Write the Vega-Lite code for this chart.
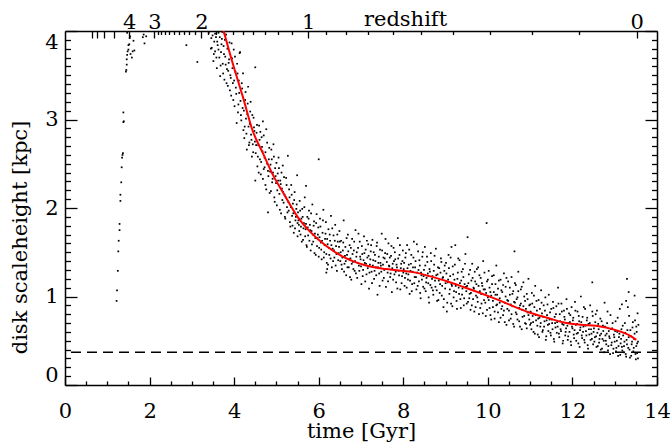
{
"$schema":"https://vega.github.io/schema/vega-lite/v6.json",
"width":592,"height":354,
"autosize":"none",
"padding":{"left":65,"top":31,"right":14,"bottom":62},
"background":"white",
"config":{"view":{"stroke":null},"axis":{"grid":false,"domainColor":"black","tickColor":"black","labelColor":"black","titleColor":"black","labelFont":"DejaVu Serif","titleFont":"DejaVu Serif","labelFontSize":21,"titleFontSize":21,"titleFontWeight":"normal","domainWidth":1.5,"tickWidth":1.3,"labelOverlap":false,"labelBound":false}},
"datasets":{
"pts":[
{"t":1.22,"h":0.95},{"t":1.23,"h":1.07},{"t":1.25,"h":1.29},{"t":1.26,"h":1.51},{"t":1.27,"h":1.63},{"t":1.29,"h":1.75},{"t":1.29,"h":1.82},{"t":1.31,"h":2.08},{"t":1.31,"h":2.15},{"t":1.33,"h":2.29},{"t":1.34,"h":2.46},{"t":1.35,"h":2.57},{"t":1.36,"h":2.6},{"t":1.37,"h":2.62},{"t":1.38,"h":2.97},{"t":1.39,"h":2.98},{"t":1.38,"h":3.08},{"t":1.44,"h":3.54},{"t":1.45,"h":3.56},{"t":1.46,"h":3.62},{"t":1.46,"h":3.68},{"t":1.47,"h":3.73},{"t":1.48,"h":3.77},{"t":1.5,"h":3.79},{"t":1.5,"h":3.84},{"t":1.52,"h":3.85},{"t":1.53,"h":3.92},{"t":1.54,"h":3.94},{"t":1.55,"h":3.74},{"t":1.58,"h":3.7},{"t":1.6,"h":3.77},{"t":1.62,"h":3.89},{"t":1.64,"h":3.78},{"t":1.84,"h":3.93},{"t":1.86,"h":3.96},{"t":1.88,"h":3.86},{"t":1.92,"h":3.94},{"t":1.47,"h":3.98},{"t":1.43,"h":4.0},{"t":2.87,"h":3.84},{"t":3.13,"h":3.65},{"t":3.4,"h":3.98},{"t":3.45,"h":3.8},
{"t":3.46,"h":3.92},{"t":3.52,"h":3.74},{"t":3.55,"h":3.97},{"t":3.58,"h":3.7},{"t":3.6,"h":3.88},{"t":3.63,"h":3.79},{"t":3.66,"h":3.93},{"t":3.68,"h":3.61},{"t":3.7,"h":3.85},{"t":3.72,"h":3.99},{"t":3.74,"h":3.52},{"t":3.76,"h":3.74},{"t":3.78,"h":3.9},{"t":3.8,"h":3.62},{"t":3.82,"h":3.41},{"t":3.84,"h":3.8},{"t":3.86,"h":3.55},{"t":3.88,"h":3.68},{"t":3.9,"h":3.33},{"t":3.92,"h":3.47},{"t":3.94,"h":3.86},{"t":3.96,"h":3.58},{"t":3.98,"h":3.22},{"t":4.0,"h":3.44},{"t":4.02,"h":3.71},{"t":4.04,"h":3.36},{"t":4.06,"h":2.96},{"t":4.08,"h":3.52},{"t":4.1,"h":3.17},{"t":4.12,"h":3.3},{"t":4.14,"h":3.76},{"t":4.16,"h":3.05},{"t":4.18,"h":3.41},{"t":4.2,"h":3.13},{"t":4.22,"h":2.88},{"t":4.24,"h":2.79},{"t":4.26,"h":3.22},{"t":4.28,"h":3.01},{"t":4.3,"h":2.66},{"t":4.32,"h":3.18},{"t":4.34,"h":2.92},{"t":4.36,"h":2.74},{"t":4.38,"h":3.09},{"t":4.4,"h":2.83},{"t":4.42,"h":2.58},{"t":4.44,"h":2.72},{"t":4.46,"h":3.02},{"t":4.48,"h":2.87},{"t":4.5,"h":2.31},{"t":4.5,"h":3.59},
{"t":4.51,"h":2.62},{"t":4.53,"h":2.85},{"t":4.55,"h":2.47},{"t":4.57,"h":2.71},{"t":4.59,"h":2.93},{"t":4.61,"h":2.55},{"t":4.63,"h":2.38},{"t":4.65,"h":2.8},{"t":4.67,"h":2.64},{"t":4.68,"h":2.98},{"t":4.7,"h":2.44},{"t":4.72,"h":2.57},{"t":4.74,"h":2.26},{"t":4.76,"h":2.89},{"t":4.78,"h":2.5},{"t":4.8,"h":1.95},{"t":4.81,"h":2.36},{"t":4.83,"h":2.68},{"t":4.85,"h":2.41},{"t":4.87,"h":2.19},{"t":4.89,"h":2.55},{"t":4.91,"h":2.33},{"t":4.93,"h":2.72},{"t":4.95,"h":2.12},{"t":4.97,"h":2.45},{"t":4.99,"h":2.28},{"t":5.01,"h":2.03},{"t":5.03,"h":2.39},{"t":5.05,"h":2.57},{"t":5.07,"h":2.16},{"t":5.09,"h":2.31},{"t":5.11,"h":1.94},{"t":5.13,"h":2.22},{"t":5.15,"h":2.48},{"t":5.17,"h":2.06},{"t":5.19,"h":2.15},{"t":5.21,"h":1.88},{"t":5.23,"h":2.34},{"t":5.25,"h":2.01},{"t":5.27,"h":2.59},{"t":5.29,"h":1.97},{"t":5.31,"h":2.12},{"t":5.33,"h":1.79},{"t":5.35,"h":2.26},{"t":5.37,"h":1.91},{"t":5.39,"h":2.05},{"t":5.41,"h":1.72},{"t":5.43,"h":2.18},{"t":5.45,"h":1.86},{"t":5.47,"h":1.99},{"t":5.49,"h":2.37},{"t":5.5,"h":1.68},
{"t":5.51,"h":1.95},{"t":5.53,"h":1.81},{"t":5.55,"h":2.08},{"t":5.57,"h":1.7},{"t":5.59,"h":1.88},{"t":5.61,"h":1.99},{"t":5.63,"h":1.64},{"t":5.65,"h":1.83},{"t":5.67,"h":2.12},{"t":5.69,"h":1.76},{"t":5.7,"h":2.25},{"t":5.71,"h":1.58},{"t":5.73,"h":1.9},{"t":5.75,"h":1.69},{"t":5.77,"h":1.97},{"t":5.79,"h":1.81},{"t":5.81,"h":1.52},{"t":5.83,"h":1.74},{"t":5.85,"h":2.04},{"t":5.87,"h":1.62},{"t":5.89,"h":1.85},{"t":5.91,"h":1.71},{"t":5.93,"h":1.47},{"t":5.95,"h":1.93},{"t":5.97,"h":1.66},{"t":5.99,"h":1.78},{"t":6.0,"h":2.55},{"t":6.01,"h":1.55},{"t":6.03,"h":1.88},{"t":6.05,"h":1.61},{"t":6.07,"h":1.42},{"t":6.09,"h":1.72},{"t":6.11,"h":1.98},{"t":6.13,"h":1.5},{"t":6.15,"h":1.65},{"t":6.17,"h":1.84},{"t":6.19,"h":1.38},{"t":6.18,"h":1.27},{"t":6.2,"h":1.31},{"t":6.21,"h":1.59},{"t":6.23,"h":1.76},{"t":6.25,"h":1.47},{"t":6.27,"h":1.63},{"t":6.29,"h":1.91},{"t":6.31,"h":1.33},{"t":6.33,"h":1.54},{"t":6.35,"h":1.69},{"t":6.37,"h":1.44},{"t":6.39,"h":1.81},{"t":6.41,"h":1.57},{"t":6.43,"h":1.29},{"t":6.45,"h":1.62},{"t":6.47,"h":1.49},{"t":6.49,"h":1.74},
{"t":6.51,"h":1.4},{"t":6.53,"h":1.63},{"t":6.55,"h":1.31},{"t":6.57,"h":1.52},{"t":6.59,"h":1.86},{"t":6.61,"h":1.37},{"t":6.63,"h":1.56},{"t":6.65,"h":1.24},{"t":6.67,"h":1.47},{"t":6.69,"h":1.7},{"t":6.71,"h":1.33},{"t":6.73,"h":1.58},{"t":6.75,"h":1.43},{"t":6.77,"h":1.19},{"t":6.79,"h":1.65},{"t":6.81,"h":1.39},{"t":6.83,"h":1.52},{"t":6.85,"h":1.29},{"t":6.87,"h":1.75},{"t":6.89,"h":1.45},{"t":6.91,"h":1.21},{"t":6.93,"h":1.55},{"t":6.95,"h":1.35},{"t":6.97,"h":1.62},{"t":6.99,"h":1.42},{"t":7.01,"h":1.14},{"t":7.03,"h":1.48},{"t":7.05,"h":1.3},{"t":7.07,"h":1.68},{"t":7.09,"h":1.38},{"t":7.11,"h":1.53},{"t":7.13,"h":1.25},{"t":7.15,"h":1.44},{"t":7.17,"h":1.59},{"t":7.19,"h":1.09},{"t":7.21,"h":1.36},{"t":7.23,"h":1.51},{"t":7.25,"h":1.28},{"t":7.27,"h":1.64},{"t":7.29,"h":1.41},{"t":7.31,"h":1.2},{"t":7.33,"h":1.47},{"t":7.35,"h":1.33},{"t":7.37,"h":1.57},{"t":7.39,"h":1.02},{"t":7.41,"h":1.38},{"t":7.43,"h":1.26},{"t":7.45,"h":1.53},{"t":7.47,"h":1.35},{"t":7.49,"h":1.71},{"t":7.51,"h":1.18},{"t":7.53,"h":1.44},{"t":7.55,"h":1.3},{"t":7.57,"h":1.49},{"t":7.59,"h":1.11},{"t":7.61,"h":1.39},{"t":7.63,"h":1.27},{"t":7.65,"h":1.6},{"t":7.67,"h":1.34},{"t":7.69,"h":1.22},{"t":7.71,"h":1.46},{"t":7.73,"h":1.05},{"t":7.75,"h":1.37},{"t":7.77,"h":1.55},{"t":7.79,"h":1.25},{"t":7.81,"h":1.42},{"t":7.83,"h":1.16},{"t":7.85,"h":1.33},{"t":7.87,"h":1.66},{"t":7.89,"h":1.29},{"t":7.91,"h":1.47},{"t":7.93,"h":1.08},{"t":7.95,"h":1.37},{"t":7.97,"h":1.23},{"t":7.99,"h":1.52},
{"t":8.01,"h":1.31},{"t":8.03,"h":1.12},{"t":8.05,"h":1.44},{"t":8.07,"h":1.26},{"t":8.09,"h":1.58},{"t":8.11,"h":1.19},{"t":8.13,"h":1.36},{"t":8.15,"h":1.03},{"t":8.17,"h":1.29},{"t":8.19,"h":1.47},{"t":8.21,"h":1.14},{"t":8.23,"h":1.33},{"t":8.25,"h":1.62},{"t":8.27,"h":1.22},{"t":8.29,"h":1.4},{"t":8.31,"h":1.08},{"t":8.33,"h":1.27},{"t":8.35,"h":1.51},{"t":8.37,"h":1.17},{"t":8.39,"h":1.35},{"t":8.41,"h":0.98},{"t":8.43,"h":1.24},{"t":8.45,"h":1.45},{"t":8.47,"h":1.11},{"t":8.49,"h":1.3},{"t":8.51,"h":1.56},{"t":8.53,"h":1.06},{"t":8.55,"h":1.21},{"t":8.57,"h":1.39},{"t":8.59,"h":1.15},{"t":8.61,"h":0.93},{"t":8.63,"h":1.28},{"t":8.65,"h":1.49},{"t":8.67,"h":1.1},{"t":8.69,"h":1.23},{"t":8.71,"h":1.02},{"t":8.73,"h":1.36},{"t":8.75,"h":1.18},{"t":8.77,"h":1.54},{"t":8.79,"h":1.07},{"t":8.81,"h":1.25},{"t":8.83,"h":0.96},{"t":8.85,"h":1.32},{"t":8.87,"h":1.14},{"t":8.89,"h":1.43},{"t":8.91,"h":1.01},{"t":8.93,"h":1.21},{"t":8.95,"h":0.88},{"t":8.97,"h":1.29},{"t":8.99,"h":1.09},{"t":9.01,"h":1.38},{"t":9.03,"h":0.83},{"t":9.05,"h":1.16},{"t":9.07,"h":1.47},{"t":9.09,"h":1.03},{"t":9.11,"h":1.23},{"t":9.13,"h":0.92},{"t":9.14,"h":1.56},{"t":9.15,"h":1.12},{"t":9.17,"h":1.34},{"t":9.19,"h":0.99},{"t":9.21,"h":1.19},{"t":9.23,"h":1.58},{"t":9.25,"h":1.05},{"t":9.27,"h":0.86},{"t":9.29,"h":1.27},{"t":9.31,"h":1.1},{"t":9.33,"h":1.41},{"t":9.35,"h":0.97},{"t":9.37,"h":1.18},{"t":9.39,"h":1.02},{"t":9.41,"h":1.31},{"t":9.43,"h":0.9},{"t":9.45,"h":1.14},{"t":9.47,"h":1.48},{"t":9.49,"h":1.06},
{"t":9.51,"h":1.12},{"t":9.52,"h":1.67},{"t":9.53,"h":0.94},{"t":9.55,"h":1.25},{"t":9.57,"h":1.03},{"t":9.59,"h":0.85},{"t":9.61,"h":1.18},{"t":9.63,"h":1.37},{"t":9.65,"h":0.97},{"t":9.67,"h":1.09},{"t":9.69,"h":1.28},{"t":9.71,"h":0.88},{"t":9.73,"h":1.14},{"t":9.75,"h":0.99},{"t":9.77,"h":1.33},{"t":9.79,"h":0.8},{"t":9.81,"h":1.06},{"t":9.83,"h":1.21},{"t":9.85,"h":0.92},{"t":9.87,"h":1.12},{"t":9.89,"h":1.4},{"t":9.91,"h":0.96},{"t":9.93,"h":1.08},{"t":9.95,"h":0.78},{"t":9.97,"h":1.83},{"t":9.98,"h":1.17},{"t":10.0,"h":0.99},{"t":10.02,"h":1.29},{"t":10.04,"h":0.87},{"t":10.06,"h":1.05},{"t":10.08,"h":0.74},{"t":10.1,"h":1.14},{"t":10.12,"h":0.95},{"t":10.14,"h":1.24},{"t":10.16,"h":0.83},{"t":10.18,"h":1.02},{"t":10.2,"h":1.35},{"t":10.22,"h":0.91},{"t":10.24,"h":1.09},{"t":10.26,"h":0.71},{"t":10.28,"h":0.98},{"t":10.3,"h":1.19},{"t":10.32,"h":0.86},{"t":10.34,"h":1.05},{"t":10.36,"h":0.79},{"t":10.38,"h":1.26},{"t":10.4,"h":0.93},{"t":10.42,"h":1.11},{"t":10.44,"h":0.68},{"t":10.46,"h":0.96},{"t":10.48,"h":1.17},{"t":10.5,"h":0.84},{"t":10.52,"h":1.02},{"t":10.54,"h":0.75},{"t":10.56,"h":1.22},{"t":10.58,"h":0.89},{"t":10.6,"h":1.06},{"t":10.62,"h":0.66},{"t":10.63,"h":1.51},{"t":10.64,"h":0.93},{"t":10.66,"h":1.13},{"t":10.68,"h":0.8},{"t":10.7,"h":0.99},{"t":10.72,"h":1.28},{"t":10.74,"h":0.72},{"t":10.76,"h":0.9},{"t":10.78,"h":1.08},{"t":10.8,"h":0.63},{"t":10.82,"h":0.85},{"t":10.84,"h":1.16},{"t":10.86,"h":0.78},{"t":10.88,"h":0.95},{"t":10.9,"h":0.69},{"t":10.92,"h":1.03},{"t":10.94,"h":0.82},{"t":10.96,"h":1.2},{"t":10.98,"h":0.74},
{"t":11.0,"h":0.91},{"t":11.02,"h":0.7},{"t":11.04,"h":1.04},{"t":11.06,"h":0.78},{"t":11.08,"h":0.6},{"t":11.1,"h":0.88},{"t":11.12,"h":1.12},{"t":11.14,"h":0.73},{"t":11.16,"h":0.84},{"t":11.18,"h":0.57},{"t":11.2,"h":0.96},{"t":11.22,"h":0.76},{"t":11.24,"h":0.66},{"t":11.26,"h":1.07},{"t":11.28,"h":0.81},{"t":11.3,"h":0.62},{"t":11.32,"h":0.9},{"t":11.34,"h":0.72},{"t":11.36,"h":0.99},{"t":11.38,"h":0.55},{"t":11.4,"h":0.79},{"t":11.42,"h":0.68},{"t":11.44,"h":1.02},{"t":11.46,"h":0.74},{"t":11.48,"h":0.59},{"t":11.5,"h":0.86},{"t":11.52,"h":0.7},{"t":11.54,"h":0.94},{"t":11.56,"h":0.52},{"t":11.58,"h":0.77},{"t":11.6,"h":0.65},{"t":11.62,"h":0.89},{"t":11.64,"h":0.71},{"t":11.66,"h":1.1},{"t":11.68,"h":0.58},{"t":11.7,"h":0.8},{"t":11.72,"h":0.63},{"t":11.74,"h":0.92},{"t":11.76,"h":0.69},{"t":11.78,"h":0.5},{"t":11.8,"h":0.84},{"t":11.82,"h":0.74},{"t":11.84,"h":0.6},{"t":11.86,"h":0.97},{"t":11.88,"h":0.67},{"t":11.9,"h":0.55},{"t":11.92,"h":0.81},{"t":11.94,"h":0.71},{"t":11.96,"h":0.49},{"t":11.98,"h":0.88},{"t":12.0,"h":0.64},{"t":12.02,"h":0.76},{"t":12.04,"h":0.53},{"t":12.06,"h":0.94},{"t":12.08,"h":0.68},{"t":12.1,"h":0.58},{"t":12.12,"h":0.83},{"t":12.14,"h":0.47},{"t":12.16,"h":0.72},{"t":12.18,"h":0.62},{"t":12.2,"h":1.0},{"t":12.22,"h":0.56},{"t":12.24,"h":0.77},{"t":12.26,"h":0.66},{"t":12.28,"h":0.51},{"t":12.3,"h":0.86},{"t":12.32,"h":0.61},{"t":12.34,"h":0.73},{"t":12.36,"h":0.45},{"t":12.38,"h":0.69},{"t":12.4,"h":0.57},{"t":12.42,"h":0.9},{"t":12.44,"h":0.63},{"t":12.46,"h":0.52},{"t":12.47,"h":1.16},{"t":12.48,"h":0.78},
{"t":12.5,"h":0.6},{"t":12.52,"h":0.49},{"t":12.54,"h":0.71},{"t":12.56,"h":0.55},{"t":12.58,"h":0.84},{"t":12.6,"h":0.44},{"t":12.62,"h":0.63},{"t":12.64,"h":0.52},{"t":12.66,"h":0.75},{"t":12.68,"h":0.58},{"t":12.7,"h":0.41},{"t":12.72,"h":0.67},{"t":12.74,"h":0.5},{"t":12.76,"h":0.93},{"t":12.78,"h":0.56},{"t":12.8,"h":0.46},{"t":12.82,"h":0.7},{"t":12.84,"h":0.39},{"t":12.86,"h":0.61},{"t":12.88,"h":0.53},{"t":12.9,"h":0.79},{"t":12.92,"h":0.45},{"t":12.94,"h":0.64},{"t":12.96,"h":0.36},{"t":12.98,"h":0.57},{"t":13.0,"h":0.49},{"t":13.02,"h":0.72},{"t":13.04,"h":0.42},{"t":13.06,"h":0.6},{"t":13.08,"h":0.33},{"t":13.1,"h":0.54},{"t":13.12,"h":0.86},{"t":13.14,"h":0.47},{"t":13.16,"h":0.63},{"t":13.17,"h":0.91},{"t":13.18,"h":0.39},{"t":13.2,"h":0.56},{"t":13.22,"h":0.44},{"t":13.24,"h":0.7},{"t":13.26,"h":0.35},{"t":13.27,"h":0.95},{"t":13.28,"h":0.51},{"t":13.29,"h":1.2},{"t":13.3,"h":0.62},{"t":13.32,"h":0.42},{"t":13.33,"h":1.05},{"t":13.34,"h":0.78},{"t":13.36,"h":0.31},{"t":13.38,"h":0.55},{"t":13.4,"h":0.46},{"t":13.42,"h":0.65},{"t":13.44,"h":0.38},{"t":13.46,"h":0.52},{"t":13.47,"h":1.01},{"t":13.48,"h":0.73},{"t":13.5,"h":0.29},{"t":13.51,"h":0.44},{"t":13.52,"h":0.6},{"t":13.53,"h":0.36},{"t":13.54,"h":0.81},{"t":13.55,"h":0.49},{"t":13.56,"h":0.68},
{"t":3.47,"h":3.81},{"t":3.49,"h":3.95},{"t":3.51,"h":3.66},{"t":3.53,"h":3.88},{"t":3.55,"h":3.77},{"t":3.57,"h":3.93},{"t":3.59,"h":3.58},{"t":3.61,"h":3.84},{"t":3.63,"h":3.98},{"t":3.65,"h":3.7},{"t":3.67,"h":3.49},{"t":3.69,"h":3.76},{"t":3.71,"h":3.91},{"t":3.73,"h":3.63},{"t":3.75,"h":3.83},{"t":3.77,"h":3.45},{"t":3.79,"h":3.71},{"t":3.81,"h":3.96},{"t":3.83,"h":3.57},{"t":3.85,"h":3.38},{"t":3.87,"h":3.64},{"t":3.89,"h":3.87},{"t":3.91,"h":3.5},{"t":3.93,"h":3.27},{"t":3.95,"h":3.69},{"t":3.97,"h":3.41},{"t":3.99,"h":3.79},{"t":4.01,"h":3.15},{"t":4.03,"h":3.54},{"t":4.05,"h":3.29},{"t":4.07,"h":3.63},{"t":4.09,"h":3.08},{"t":4.11,"h":3.44},{"t":4.13,"h":3.75},{"t":4.15,"h":3.21},{"t":4.17,"h":2.99},{"t":4.19,"h":3.35},{"t":4.21,"h":3.52},{"t":4.23,"h":3.1},{"t":4.25,"h":2.92},{"t":4.27,"h":3.31},{"t":4.29,"h":2.84},{"t":4.31,"h":3.06},{"t":4.33,"h":3.37},{"t":4.35,"h":2.71},{"t":4.37,"h":2.95},{"t":4.39,"h":3.2},{"t":4.41,"h":2.77},{"t":4.43,"h":3.05},{"t":4.45,"h":2.63},{"t":4.47,"h":2.91},{"t":4.49,"h":2.75},
{"t":4.52,"h":2.71},{"t":4.54,"h":2.94},{"t":4.56,"h":2.58},{"t":4.58,"h":2.4},{"t":4.6,"h":2.77},{"t":4.62,"h":2.86},{"t":4.64,"h":2.52},{"t":4.66,"h":2.69},{"t":4.68,"h":2.33},{"t":4.7,"h":2.82},{"t":4.72,"h":2.46},{"t":4.74,"h":2.63},{"t":4.76,"h":2.21},{"t":4.78,"h":2.74},{"t":4.8,"h":2.42},{"t":4.82,"h":2.55},{"t":4.84,"h":2.17},{"t":4.86,"h":2.49},{"t":4.88,"h":2.66},{"t":4.9,"h":2.29},{"t":4.92,"h":2.4},{"t":4.94,"h":2.58},{"t":4.96,"h":2.07},{"t":4.98,"h":2.36},{"t":5.0,"h":2.51},{"t":5.02,"h":2.2},{"t":5.04,"h":2.31},{"t":5.06,"h":2.45},{"t":5.08,"h":1.98},{"t":5.1,"h":2.27},{"t":5.12,"h":2.4},{"t":5.14,"h":2.09},{"t":5.16,"h":2.18},{"t":5.18,"h":2.35},{"t":5.2,"h":1.9},{"t":5.22,"h":2.12},{"t":5.24,"h":2.26},{"t":5.26,"h":1.95},{"t":5.28,"h":2.07},{"t":5.3,"h":2.21},{"t":5.32,"h":1.84},{"t":5.34,"h":2.01},{"t":5.36,"h":2.15},{"t":5.38,"h":1.8},{"t":5.4,"h":1.94},{"t":5.42,"h":2.09},{"t":5.44,"h":1.77},{"t":5.46,"h":1.9},{"t":5.48,"h":2.04},{"t":5.5,"h":1.83},
{"t":5.52,"h":1.86},{"t":5.54,"h":1.74},{"t":5.56,"h":1.97},{"t":5.58,"h":1.79},{"t":5.6,"h":1.62},{"t":5.62,"h":1.9},{"t":5.64,"h":1.77},{"t":5.66,"h":2.01},{"t":5.68,"h":1.68},{"t":5.7,"h":1.82},{"t":5.72,"h":1.56},{"t":5.74,"h":1.78},{"t":5.76,"h":1.88},{"t":5.78,"h":1.63},{"t":5.8,"h":1.75},{"t":5.82,"h":1.94},{"t":5.84,"h":1.59},{"t":5.86,"h":1.7},{"t":5.88,"h":1.8},{"t":5.9,"h":1.49},{"t":5.92,"h":1.66},{"t":5.94,"h":1.83},{"t":5.96,"h":1.57},{"t":5.98,"h":1.7},{"t":6.0,"h":1.45},{"t":6.02,"h":1.67},{"t":6.04,"h":1.79},{"t":6.06,"h":1.53},{"t":6.08,"h":1.63},{"t":6.1,"h":1.86},{"t":6.12,"h":1.44},{"t":6.14,"h":1.58},{"t":6.16,"h":1.71},{"t":6.18,"h":1.48},{"t":6.2,"h":1.65},{"t":6.22,"h":1.36},{"t":6.24,"h":1.55},{"t":6.26,"h":1.7},{"t":6.28,"h":1.43},{"t":6.3,"h":1.58},{"t":6.32,"h":1.77},{"t":6.34,"h":1.4},{"t":6.36,"h":1.52},{"t":6.38,"h":1.63},{"t":6.4,"h":1.35},{"t":6.42,"h":1.48},{"t":6.44,"h":1.7},{"t":6.46,"h":1.41},{"t":6.48,"h":1.56},{"t":6.5,"h":1.62},
{"t":6.52,"h":1.5},{"t":6.54,"h":1.36},{"t":6.56,"h":1.44},{"t":6.58,"h":1.61},{"t":6.6,"h":1.28},{"t":6.62,"h":1.46},{"t":6.64,"h":1.4},{"t":6.66,"h":1.66},{"t":6.68,"h":1.33},{"t":6.7,"h":1.51},{"t":6.72,"h":1.42},{"t":6.74,"h":1.22},{"t":6.76,"h":1.55},{"t":6.78,"h":1.37},{"t":6.8,"h":1.48},{"t":6.82,"h":1.31},{"t":6.84,"h":1.62},{"t":6.86,"h":1.4},{"t":6.88,"h":1.26},{"t":6.9,"h":1.5},{"t":6.92,"h":1.38},{"t":6.94,"h":1.71},{"t":6.96,"h":1.29},{"t":6.98,"h":1.45},{"t":7.0,"h":1.34},{"t":7.02,"h":1.57},{"t":7.04,"h":1.23},{"t":7.06,"h":1.41},{"t":7.08,"h":1.49},{"t":7.1,"h":1.17},{"t":7.12,"h":1.37},{"t":7.14,"h":1.63},{"t":7.16,"h":1.32},{"t":7.18,"h":1.46},{"t":7.2,"h":1.27},{"t":7.22,"h":1.42},{"t":7.24,"h":1.58},{"t":7.26,"h":1.15},{"t":7.28,"h":1.35},{"t":7.3,"h":1.5},{"t":7.32,"h":1.29},{"t":7.34,"h":1.4},{"t":7.36,"h":1.24},{"t":7.38,"h":1.61},{"t":7.4,"h":1.33},{"t":7.42,"h":1.45},{"t":7.44,"h":1.12},{"t":7.46,"h":1.38},{"t":7.48,"h":1.28},{"t":7.5,"h":1.52},{"t":7.52,"h":1.36},{"t":7.54,"h":1.21},{"t":7.56,"h":1.43},{"t":7.58,"h":1.65},{"t":7.6,"h":1.31},{"t":7.62,"h":1.48},{"t":7.64,"h":1.17},{"t":7.66,"h":1.35},{"t":7.68,"h":1.44},{"t":7.7,"h":1.26},{"t":7.72,"h":1.57},{"t":7.74,"h":1.32},{"t":7.76,"h":1.19},{"t":7.78,"h":1.4},{"t":7.8,"h":1.5},{"t":7.82,"h":1.28},{"t":7.84,"h":1.36},{"t":7.86,"h":1.09},{"t":7.88,"h":1.43},{"t":7.9,"h":1.24},{"t":7.92,"h":1.58},{"t":7.94,"h":1.32},{"t":7.96,"h":1.15},{"t":7.98,"h":1.4},{"t":8.0,"h":1.27},
{"t":8.02,"h":1.38},{"t":8.04,"h":1.21},{"t":8.06,"h":1.49},{"t":8.08,"h":1.1},{"t":8.1,"h":1.32},{"t":8.12,"h":1.25},{"t":8.14,"h":1.53},{"t":8.16,"h":1.18},{"t":8.18,"h":1.37},{"t":8.2,"h":1.06},{"t":8.22,"h":1.28},{"t":8.24,"h":1.44},{"t":8.26,"h":1.15},{"t":8.28,"h":1.33},{"t":8.3,"h":1.22},{"t":8.32,"h":1.59},{"t":8.34,"h":1.12},{"t":8.36,"h":1.3},{"t":8.38,"h":1.41},{"t":8.4,"h":1.04},{"t":8.42,"h":1.27},{"t":8.44,"h":1.19},{"t":8.46,"h":1.5},{"t":8.48,"h":1.23},{"t":8.5,"h":1.09},{"t":8.52,"h":1.35},{"t":8.54,"h":1.16},{"t":8.56,"h":1.45},{"t":8.58,"h":1.26},{"t":8.6,"h":0.99},{"t":8.62,"h":1.31},{"t":8.64,"h":1.13},{"t":8.66,"h":1.4},{"t":8.68,"h":1.2},{"t":8.7,"h":1.07},{"t":8.72,"h":1.29},{"t":8.74,"h":1.46},{"t":8.76,"h":1.11},{"t":8.78,"h":1.24},{"t":8.8,"h":0.95},{"t":8.82,"h":1.33},{"t":8.84,"h":1.18},{"t":8.86,"h":1.04},{"t":8.88,"h":1.27},{"t":8.9,"h":1.39},{"t":8.92,"h":1.12},{"t":8.94,"h":1.22},{"t":8.96,"h":0.97},{"t":8.98,"h":1.35},{"t":9.0,"h":1.15},{"t":9.02,"h":1.26},{"t":9.04,"h":0.93},{"t":9.06,"h":1.19},{"t":9.08,"h":1.32},{"t":9.1,"h":1.08},{"t":9.12,"h":1.44},{"t":9.14,"h":1.14},{"t":9.16,"h":0.89},{"t":9.18,"h":1.25},{"t":9.2,"h":1.06},{"t":9.22,"h":1.36},{"t":9.24,"h":1.12},{"t":9.26,"h":0.95},{"t":9.28,"h":1.2},{"t":9.3,"h":1.43},{"t":9.32,"h":1.03},{"t":9.34,"h":1.15},{"t":9.36,"h":0.87},{"t":9.38,"h":1.28},{"t":9.4,"h":1.09},{"t":9.42,"h":1.22},{"t":9.44,"h":0.98},{"t":9.46,"h":1.37},{"t":9.48,"h":1.11},{"t":9.5,"h":0.92},
{"t":9.54,"h":1.15},{"t":9.56,"h":0.98},{"t":9.58,"h":1.3},{"t":9.6,"h":1.04},{"t":9.62,"h":0.9},{"t":9.64,"h":1.21},{"t":9.66,"h":1.1},{"t":9.68,"h":0.83},{"t":9.7,"h":1.17},{"t":9.72,"h":1.01},{"t":9.74,"h":1.31},{"t":9.76,"h":0.94},{"t":9.78,"h":1.12},{"t":9.8,"h":1.24},{"t":9.82,"h":0.87},{"t":9.84,"h":1.03},{"t":9.86,"h":1.15},{"t":9.88,"h":0.81},{"t":9.9,"h":1.08},{"t":9.92,"h":1.27},{"t":9.94,"h":0.93},{"t":9.96,"h":1.04},{"t":9.98,"h":0.85},{"t":10.0,"h":1.19},{"t":10.02,"h":0.96},{"t":10.04,"h":1.1},{"t":10.06,"h":0.79},{"t":10.08,"h":1.01},{"t":10.1,"h":1.23},{"t":10.12,"h":0.88},{"t":10.14,"h":1.05},{"t":10.16,"h":0.75},{"t":10.18,"h":1.14},{"t":10.2,"h":0.9},{"t":10.22,"h":1.02},{"t":10.24,"h":0.82},{"t":10.26,"h":1.18},{"t":10.28,"h":0.93},{"t":10.3,"h":0.76},{"t":10.32,"h":1.07},{"t":10.34,"h":0.89},{"t":10.36,"h":1.13},{"t":10.38,"h":0.84},{"t":10.4,"h":0.71},{"t":10.42,"h":1.0},{"t":10.44,"h":1.21},{"t":10.46,"h":0.86},{"t":10.48,"h":0.95},{"t":10.5,"h":0.73},{"t":10.52,"h":1.1},{"t":10.54,"h":0.91},{"t":10.56,"h":0.8},{"t":10.58,"h":1.03},{"t":10.6,"h":0.69},{"t":10.62,"h":0.94},{"t":10.64,"h":1.15},{"t":10.66,"h":0.82},{"t":10.68,"h":0.97},{"t":10.7,"h":0.74},{"t":10.72,"h":1.06},{"t":10.74,"h":0.87},{"t":10.76,"h":0.66},{"t":10.78,"h":0.92},{"t":10.8,"h":1.11},{"t":10.82,"h":0.77},{"t":10.84,"h":0.89},{"t":10.86,"h":1.0},{"t":10.88,"h":0.7},{"t":10.9,"h":0.86},{"t":10.92,"h":0.64},{"t":10.94,"h":0.97},{"t":10.96,"h":0.79},{"t":10.98,"h":0.9},{"t":11.0,"h":0.68},
{"t":11.01,"h":0.83},{"t":11.03,"h":0.63},{"t":11.05,"h":0.92},{"t":11.07,"h":0.71},{"t":11.09,"h":1.01},{"t":11.11,"h":0.58},{"t":11.13,"h":0.79},{"t":11.15,"h":0.95},{"t":11.17,"h":0.67},{"t":11.19,"h":0.75},{"t":11.21,"h":0.54},{"t":11.23,"h":0.86},{"t":11.25,"h":0.7},{"t":11.27,"h":0.93},{"t":11.29,"h":0.6},{"t":11.31,"h":0.77},{"t":11.33,"h":0.66},{"t":11.35,"h":0.84},{"t":11.37,"h":0.51},{"t":11.39,"h":0.73},{"t":11.41,"h":0.91},{"t":11.43,"h":0.61},{"t":11.45,"h":0.69},{"t":11.47,"h":0.82},{"t":11.49,"h":0.56},{"t":11.51,"h":0.74},{"t":11.53,"h":0.63},{"t":11.55,"h":0.87},{"t":11.57,"h":0.49},{"t":11.59,"h":0.7},{"t":11.61,"h":0.8},{"t":11.63,"h":0.59},{"t":11.65,"h":0.66},{"t":11.67,"h":0.92},{"t":11.69,"h":0.54},{"t":11.71,"h":0.72},{"t":11.73,"h":0.61},{"t":11.75,"h":0.83},{"t":11.77,"h":0.47},{"t":11.79,"h":0.68},{"t":11.81,"h":0.77},{"t":11.83,"h":0.56},{"t":11.85,"h":0.64},{"t":11.87,"h":0.86},{"t":11.89,"h":0.51},{"t":11.91,"h":0.7},{"t":11.93,"h":0.6},{"t":11.95,"h":0.79},{"t":11.97,"h":0.45},{"t":11.99,"h":0.66},{"t":12.01,"h":0.73},{"t":12.03,"h":0.57},{"t":12.05,"h":0.62},{"t":12.07,"h":0.84},{"t":12.09,"h":0.5},{"t":12.11,"h":0.69},{"t":12.13,"h":0.59},{"t":12.15,"h":0.78},{"t":12.17,"h":0.43},{"t":12.19,"h":0.65},{"t":12.21,"h":0.71},{"t":12.23,"h":0.53},{"t":12.25,"h":0.6},{"t":12.27,"h":0.88},{"t":12.29,"h":0.48},{"t":12.31,"h":0.67},{"t":12.33,"h":0.56},{"t":12.35,"h":0.76},{"t":12.37,"h":0.41},{"t":12.39,"h":0.63},{"t":12.41,"h":0.7},{"t":12.43,"h":0.51},{"t":12.45,"h":0.58},{"t":12.47,"h":0.83},{"t":12.49,"h":0.46},
{"t":12.51,"h":0.64},{"t":12.53,"h":0.54},{"t":12.55,"h":0.8},{"t":12.57,"h":0.43},{"t":12.59,"h":0.59},{"t":12.61,"h":0.69},{"t":12.63,"h":0.48},{"t":12.65,"h":0.56},{"t":12.67,"h":0.4},{"t":12.69,"h":0.72},{"t":12.71,"h":0.52},{"t":12.73,"h":0.61},{"t":12.75,"h":0.37},{"t":12.77,"h":0.66},{"t":12.79,"h":0.5},{"t":12.81,"h":0.58},{"t":12.83,"h":0.83},{"t":12.85,"h":0.44},{"t":12.87,"h":0.55},{"t":12.89,"h":0.35},{"t":12.91,"h":0.63},{"t":12.93,"h":0.48},{"t":12.95,"h":0.7},{"t":12.97,"h":0.41},{"t":12.99,"h":0.54},{"t":13.01,"h":0.61},{"t":13.03,"h":0.38},{"t":13.05,"h":0.5},{"t":13.07,"h":0.76},{"t":13.09,"h":0.44},{"t":13.11,"h":0.58},{"t":13.13,"h":0.34},{"t":13.15,"h":0.52},{"t":13.17,"h":0.43},{"t":13.19,"h":0.67},{"t":13.21,"h":0.37},{"t":13.23,"h":0.49},{"t":13.25,"h":0.59},{"t":13.27,"h":0.32},{"t":13.29,"h":0.46},{"t":13.31,"h":0.88},{"t":13.33,"h":0.54},{"t":13.35,"h":0.4},{"t":13.37,"h":0.62},{"t":13.39,"h":0.33},{"t":13.41,"h":0.49},{"t":13.43,"h":0.71},{"t":13.45,"h":0.42},{"t":13.47,"h":0.58},{"t":13.49,"h":0.35},{"t":13.51,"h":0.66},{"t":13.53,"h":0.47},{"t":13.55,"h":0.3}
],
"fit":[
{"t":3.7,"h":4.08},{"t":3.75,"h":4.0},{"t":3.95,"h":3.66},{"t":4.21,"h":3.25},{"t":4.44,"h":2.87},{"t":4.68,"h":2.62},{"t":4.91,"h":2.38},{"t":5.15,"h":2.18},{"t":5.5,"h":1.9},{"t":5.8,"h":1.73},{"t":6.18,"h":1.57},{"t":6.57,"h":1.45},{"t":7.12,"h":1.35},{"t":7.6,"h":1.31},{"t":8.3,"h":1.27},{"t":8.62,"h":1.23},{"t":9.05,"h":1.17},{"t":9.41,"h":1.11},{"t":10.2,"h":0.97},{"t":10.98,"h":0.82},{"t":11.4,"h":0.76},{"t":11.77,"h":0.71},{"t":12.2,"h":0.68},{"t":12.56,"h":0.67},{"t":13.03,"h":0.62},{"t":13.35,"h":0.56},{"t":13.51,"h":0.51}
]
},
"resolve":{"axis":{"x":"independent","y":"independent"}},
"layer":[
{"data":{"name":"pts"},
"mark":{"type":"square","size":3,"color":"black","opacity":1,"clip":true},
"encoding":{
"x":{"field":"t","type":"quantitative","scale":{"domain":[0,14],"nice":false,"zero":false},
"axis":{"orient":"bottom","title":"time [Gyr]","titleX":296,"titleY":52,"titleBaseline":"alphabetic","titleAlign":"center","titleAnchor":null,
"values":[0,2,4,6,8,10,12,14],"format":"d","ticks":false,
"labelFlush":false,"labelBaseline":"top","labelPadding":15}},
"y":{"field":"h","type":"quantitative","scale":{"domain":[0,4],"nice":false,"zero":false},
"axis":{"orient":"left","title":"disk scaleheight [kpc]","titleX":-39,"titleY":206,"titleBaseline":"alphabetic","titleAlign":"center","titleAngle":-90,"titleAnchor":null,
"values":[0,1,2,3,4],"format":"d","ticks":false,
"labelFlush":true,"labelAlign":"right","labelPadding":7}}
}},
{"data":{"name":"fit"},
"mark":{"type":"line","color":"#ff0000","strokeWidth":2,"interpolate":"monotone","clip":true},
"encoding":{
"x":{"field":"t","type":"quantitative","scale":{"domain":[0,14],"nice":false,"zero":false},
"axis":{"orient":"top","title":"redshift","titleX":340,"titleY":-6,"titleBaseline":"alphabetic","titleAlign":"center","titleAnchor":null,
"values":[13.52,5.752,3.227,2.1125,1.516],"ticks":false,
"labelExpr":"datum.value==13.52?'0':datum.value==5.752?'1':datum.value==3.227?'2':datum.value==2.1125?'3':datum.value==1.516?'4':''",
"labelFlush":false,"labelBaseline":"alphabetic","labelPadding":3}},
"y":{"field":"h","type":"quantitative","scale":{"domain":[0,4],"nice":false,"zero":false},
"axis":{"orient":"right","title":null,"labels":false,"ticks":false,"values":[0,1,2,3,4]}}
}},
{"data":{"values":[{"h":0.37}]},
"mark":{"type":"rule","strokeDash":[10,6],"strokeWidth":1.5,"color":"black"},
"encoding":{"y":{"field":"h","type":"quantitative","axis":null}}},
{"data":{"name":"fit"},
"mark":{"type":"point","opacity":0},
"encoding":{
"x":{"field":"t","type":"quantitative","scale":{"domain":[0,14],"nice":false,"zero":false},
"axis":{"orient":"bottom","title":null,"labels":false,"domain":false,"tickSize":8,"offset":-8,
"values":[0,2,4,6,8,10,12,14]}},
"y":{"field":"h","type":"quantitative","scale":{"domain":[0,4],"nice":false,"zero":false},
"axis":{"orient":"left","title":null,"labels":false,"domain":false,"tickSize":12,"offset":-12,
"values":[0,1,2,3,4]}}
}},
{"data":{"name":"fit"},
"mark":{"type":"point","opacity":0},
"encoding":{
"x":{"field":"t","type":"quantitative","scale":{"domain":[0,14],"nice":false,"zero":false},
"axis":{"orient":"top","title":null,"labels":false,"domain":false,"tickSize":7,"offset":-7,
"values":[13.52,5.752,3.227,2.1125,1.516,1.155,0.917,0.751,0.629]}},
"y":{"field":"h","type":"quantitative","scale":{"domain":[0,4],"nice":false,"zero":false},
"axis":{"orient":"right","title":null,"labels":false,"domain":false,"tickSize":12,"offset":-12,
"values":[0,1,2,3,4]}}
}},
{"data":{"name":"fit"},
"mark":{"type":"point","opacity":0},
"encoding":{
"x":{"field":"t","type":"quantitative","scale":{"domain":[0,14],"nice":false,"zero":false},
"axis":{"orient":"bottom","title":null,"labels":false,"domain":false,"tickSize":4,"offset":-4,
"values":[0.5,1,1.5,2.5,3,3.5,4.5,5,5.5,6.5,7,7.5,8.5,9,9.5,10.5,11,11.5,12.5,13,13.5]}},
"y":{"field":"h","type":"quantitative","scale":{"domain":[0,4],"nice":false,"zero":false},
"axis":{"orient":"left","title":null,"labels":false,"domain":false,"tickSize":5.5,"offset":-5.5,
"values":[0.1,0.2,0.3,0.4,0.5,0.6,0.7,0.8,0.9,1.1,1.2,1.3,1.4,1.5,1.6,1.7,1.8,1.9,2.1,2.2,2.3,2.4,2.5,2.6,2.7,2.8,2.9,3.1,3.2,3.3,3.4,3.5,3.6,3.7,3.8,3.9]}}
}},
{"data":{"name":"fit"},
"mark":{"type":"point","opacity":0},
"encoding":{
"x":{"field":"t","type":"quantitative","scale":{"domain":[0,14],"nice":false,"zero":false},
"axis":{"orient":"top","title":null,"labels":false,"domain":false,"tickSize":3.5,"offset":-3.5,
"values":[12.166,11.035,10.048,9.185,8.426,7.757,7.165,6.64,6.171,5.375,5.037,4.73,4.453,4.201,3.97,3.76,3.567,3.39,3.076,2.936,2.806,2.686,2.573,2.469,2.371,2.279,2.193]}},
"y":{"field":"h","type":"quantitative","scale":{"domain":[0,4],"nice":false,"zero":false},
"axis":{"orient":"right","title":null,"labels":false,"domain":false,"tickSize":5.5,"offset":-5.5,
"values":[0.1,0.2,0.3,0.4,0.5,0.6,0.7,0.8,0.9,1.1,1.2,1.3,1.4,1.5,1.6,1.7,1.8,1.9,2.1,2.2,2.3,2.4,2.5,2.6,2.7,2.8,2.9,3.1,3.2,3.3,3.4,3.5,3.6,3.7,3.8,3.9]}}
}}
]
}
